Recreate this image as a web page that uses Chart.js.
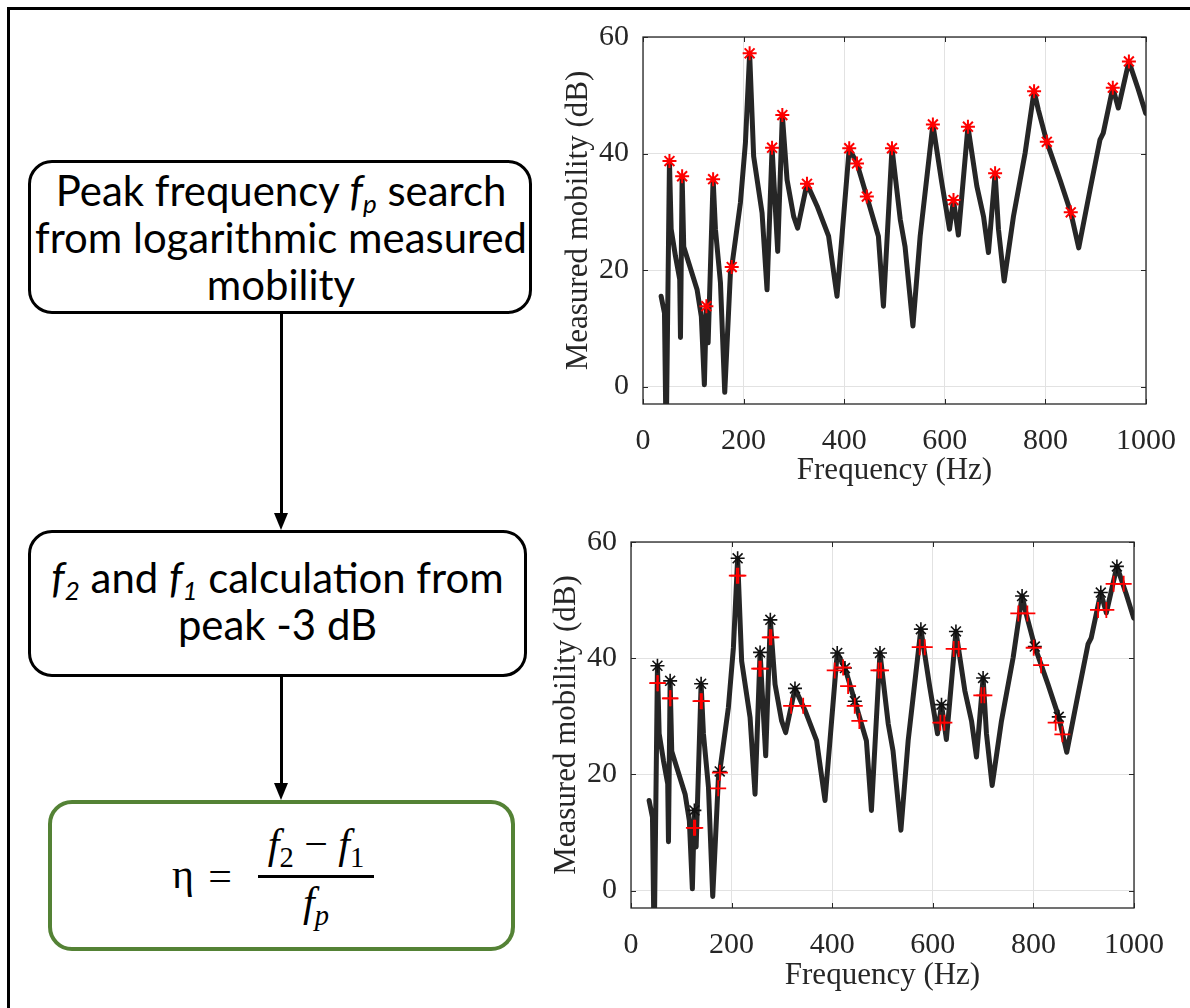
<!DOCTYPE html>
<html>
<head>
<meta charset="utf-8">
<script src="https://cdn.jsdelivr.net/npm/chart.js@4.4.0/dist/chart.umd.min.js"></script>
<style>
html,body{margin:0;padding:0;background:#fff;}
#page{position:relative;width:1190px;height:1008px;overflow:hidden;background:#fff;}
.frameTop{position:absolute;left:7px;top:7px;width:1183px;height:3px;background:#000;}
.frameLeft{position:absolute;left:7px;top:7px;width:3px;height:1001px;background:#000;}
.box{position:absolute;box-sizing:border-box;border:3.5px solid #000;border-radius:24px;background:#fff;}
.green{border:4px solid #548235;}
.txt{position:absolute;left:0;width:560px;text-align:center;font-family:Lato,"Open Sans",sans-serif;color:#000;white-space:nowrap;}
.txt sub{font-size:0.62em;vertical-align:-0.28em;line-height:0;}
.vline{position:absolute;width:3.5px;background:#000;}
.head{position:absolute;width:0;height:0;border-left:7.5px solid transparent;border-right:7.5px solid transparent;border-top:17px solid #000;}
.m{position:absolute;font-family:"Liberation Serif","DejaVu Serif",serif;color:#000;white-space:nowrap;transform:translate(-50%,-50%);line-height:1;}
.m i sub{font-size:0.68em;vertical-align:-0.3em;font-style:normal;}
.m i sub.it{font-style:italic;}
.bar{position:absolute;height:2.5px;background:#000;}
canvas{position:absolute;}
</style>
</head>
<body>
<div id="page">
  <div class="frameTop"></div>
  <div class="frameLeft"></div>

  <div class="box" style="left:28px;top:160px;width:504px;height:154px;"></div>
  <div class="txt" id="l1">Peak frequency <i>f</i><sub><i>p</i></sub> search</div>
  <div class="txt" id="l2">from logarithmic measured</div>
  <div class="txt" id="l3">mobility</div>

  <div class="vline" style="left:279.5px;top:313px;height:200px;"></div>
  <div class="head" style="left:273.5px;top:513px;"></div>

  <div class="box" style="left:28px;top:530px;width:499px;height:147px;"></div>
  <div class="txt" id="l4"><i>f</i><sub><i>2</i></sub> and <i>f</i><sub><i>1</i></sub> calculation from</div>
  <div class="txt" id="l5">peak -3 dB</div>

  <div class="vline" style="left:279.5px;top:676px;height:108px;"></div>
  <div class="head" style="left:273.5px;top:783px;"></div>

  <div class="box green" style="left:48px;top:800px;width:467px;height:151px;"></div>
  <div class="m" style="left:183px;top:874px;font-size:42px;">η</div>
  <div class="m" style="left:220px;top:876px;font-size:42px;">=</div>
  <div class="m" style="left:316px;top:848px;font-size:42px;"><i>f<sub>2</sub></i> − <i>f<sub>1</sub></i></div>
  <div class="bar" style="left:258px;top:875px;width:116px;"></div>
  <div class="m" style="left:316px;top:906px;font-size:42px;"><i>f<sub class="it">p</sub></i></div>

  <canvas id="c1" width="640" height="495" style="left:560px;top:5px;width:640px;height:495px;"></canvas>
  <canvas id="c2" width="640" height="495" style="left:548px;top:510px;width:640px;height:495px;"></canvas>
</div>
<script>
// ---- data ----
const freqHz = [36, 42.7, 46, 52.6, 56, 64.5, 73, 74.5, 77.8, 81, 91, 107.6, 116, 122, 126, 129.5, 139.4, 144, 154, 162.5,
  173.8, 176.4, 193.6, 203.6, 212, 220, 236.7, 246.6, 256.6, 267.8, 277, 286.4, 299.5, 307.5, 326, 346, 369, 385.7,
  410, 425.4, 445, 468, 478, 495, 511.4, 521, 536.6, 551, 576.3, 594, 609.4, 617.3, 627, 646, 663.7, 677, 686.8,
  700, 706.7, 718, 736.5, 759.7, 777.5, 786, 802.8, 829, 850.4, 866.3, 888.8, 908.6, 915, 934, 945, 966, 984.7, 999.4];
const mobilityDb = [15.5, 12.6, -10, 38.7, 27, 22.4, 18.4, 8.4, 36.1, 24, 21.2, 16.6, 12, 0.3, 13.8, 7.5, 35.6, 27, 17.8, -1,
  19.5, 20.5, 31.5, 41.8, 57.2, 39.5, 29.8, 16.6, 41, 23.2, 46.6, 35.5, 29.2, 27.2, 34.8, 31, 25.8, 15.5,
  40.9, 38.3, 32.6, 25.8, 13.8, 40.9, 28.7, 24, 10.4, 25.8, 45, 35, 27, 32, 26, 44.6, 34.4, 29.2, 23,
  36.6, 27, 18.1, 29.2, 40.1, 50.7, 47.5, 42, 35.5, 29.9, 23.8, 33.8, 42.4, 43.5, 51.3, 47.8, 55.8, 51, 46.9];
const peakHz = [52.6, 77.8, 126, 139.4, 176.4, 212, 256.6, 277, 326, 410, 425.4, 445, 495, 576.3, 617.3, 646, 700, 777.5, 802.8, 850.4, 934, 966];
const peakDb = [38.7, 36.1, 13.8, 35.6, 20.5, 57.2, 41, 46.6, 34.8, 40.9, 38.3, 32.6, 40.9, 45, 32, 44.6, 36.6, 50.7, 42, 29.9, 51.3, 55.8];
const bandHz = [52.2, 53.5, 77.4, 78.6, 125.1, 127.7, 138.3, 141, 173.3, 176.8, 210.4, 213.4, 255, 258, 276, 279, 318.4, 342.3,
  405, 421.7, 431.6, 444.8, 454, 492, 497, 574, 584, 615, 623, 641.5, 651.5, 696.5, 702.5, 770, 788, 800.6, 815.3,
  844.3, 857.6, 928.5, 945, 959.5, 979.5];
const bandDb = [35.7, 35.7, 33.1, 33.1, 10.8, 10.8, 32.6, 32.6, 17.6, 20.3, 54.2, 54.2, 38.2, 38.2, 43.6, 43.6, 31.8, 31.8,
  37.9, 38.4, 35.2, 31.8, 29.2, 37.9, 37.9, 41.9, 41.9, 28.9, 28.9, 41.6, 41.6, 33.6, 33.6, 47.7, 47.7, 41.8, 38.8,
  28.9, 26.9, 48.3, 48.3, 52.8, 52.8];
const xTicks = [0, 200, 400, 600, 800, 1000];
const yTicks = [0, 20, 40, 60];
const xTitle = 'Frequency (Hz)';
const yTitle = 'Measured mobility (dB)';

// ---- flowchart text layout ----
(function(){
  const c = document.createElement('canvas').getContext('2d');
  c.font = '100px Lato';
  const w = c.measureText('from logarithmic measured').width;
  const size = 100 * 492 / w;
  const lines = [['l1',190],['l2',237],['l3',284],['l4',577],['l5',624]];
  lines.forEach(([id, cy]) => {
    const el = document.getElementById(id);
    const lh = 48;
    el.style.fontSize = size.toFixed(2) + 'px';
    el.style.lineHeight = lh + 'px';
    el.style.top = (cy - lh/2) + 'px';
    el.style.left = (id[1] >= '4' ? 28 : 30) + 'px';
    el.style.width = (id[1] >= '4' ? 499 : 502) + 'px';
  });
})();

// ---- charts ----
const ink = '#262626';
const serif = '"Liberation Serif", "Times New Roman", serif';

const boxPlugin = {
  id: 'axesBox',
  afterDraw(chart) {
    const {ctx, chartArea: a, scales} = chart;
    ctx.save();
    ctx.strokeStyle = ink;
    ctx.lineWidth = 1.3;
    ctx.strokeRect(a.left, a.top, a.right - a.left, a.bottom - a.top);
    ctx.lineWidth = 1;
    const tl = 5;
    ctx.beginPath();
    xTicks.forEach(v => {
      const px = Math.round(scales.x.getPixelForValue(v)) + 0.5;
      ctx.moveTo(px, a.bottom); ctx.lineTo(px, a.bottom - tl);
      ctx.moveTo(px, a.top); ctx.lineTo(px, a.top + tl);
    });
    yTicks.forEach(v => {
      const py = Math.round(scales.y.getPixelForValue(v)) + 0.5;
      ctx.moveTo(a.left, py); ctx.lineTo(a.left + tl, py);
      ctx.moveTo(a.right, py); ctx.lineTo(a.right - tl, py);
    });
    ctx.stroke();
    ctx.restore();
  }
};

function pts(xs, ys) { return xs.map((x, i) => ({x: x, y: ys[i]})); }

function makeChart(id, xAxisHeight, datasets) {
  return new Chart(document.getElementById(id), {
    type: 'line',
    data: {datasets: datasets},
    options: {
      responsive: false,
      animation: false,
      devicePixelRatio: 1,
      layout: {padding: {top: 0, right: 54, left: 0, bottom: 0}},
      plugins: {legend: {display: false}, tooltip: {enabled: false}},
      scales: {
        x: {
          type: 'linear', min: 0, max: 1000,
          afterBuildTicks: s => { s.ticks = xTicks.map(v => ({value: v})); },
          afterFit: s => { s.height = xAxisHeight; },
          grid: {color: '#e2e2e2', lineWidth: 1, drawTicks: false},
          border: {display: false},
          ticks: {padding: 19, color: ink, font: {family: serif, size: 30}, maxRotation: 0, autoSkip: false,
                  callback: v => String(v)},
          title: {display: true, text: xTitle, color: ink, font: {family: serif, size: 31}, padding: {top: 0, bottom: 11}}
        },
        y: {
          type: 'linear', min: -3, max: 60,
          afterBuildTicks: s => { s.ticks = yTicks.map(v => ({value: v})); },
          afterFit: s => { s.width = 83; },
          grid: {color: '#e2e2e2', lineWidth: 1, drawTicks: false},
          border: {display: false},
          ticks: {padding: 14, color: ink, font: {family: serif, size: 30}, autoSkip: false,
                  callback: v => String(v)},
          title: {display: true, text: yTitle, color: ink, font: {family: serif, size: 31}, padding: {top: 0, bottom: 0}}
        }
      }
    },
    plugins: [boxPlugin]
  });
}

const curve = () => ({
  data: pts(freqHz, mobilityDb), borderColor: ink, borderWidth: 5, pointRadius: 0,
  tension: 0, borderJoinStyle: 'round', borderCapStyle: 'round', fill: false, order: 10
});

makeChart('c1', 96, [
  curve(),
  {data: pts(peakHz, peakDb), showLine: false, pointStyle: 'star', pointRadius: 7,
   borderColor: '#ff0000', backgroundColor: '#ff0000', pointBorderWidth: 2, order: 1}
]);

makeChart('c2', 97, [
  curve(),
  {data: pts(peakHz, peakDb), showLine: false, pointStyle: 'star', pointRadius: 7,
   borderColor: '#111111', backgroundColor: '#111111', pointBorderWidth: 1.6, order: 5},
  {data: pts(bandHz, bandDb), showLine: false, pointStyle: 'cross', pointRadius: 8,
   borderColor: '#ff0000', backgroundColor: '#ff0000', pointBorderWidth: 1.8, order: 1}
]);
</script>
</body>
</html>
